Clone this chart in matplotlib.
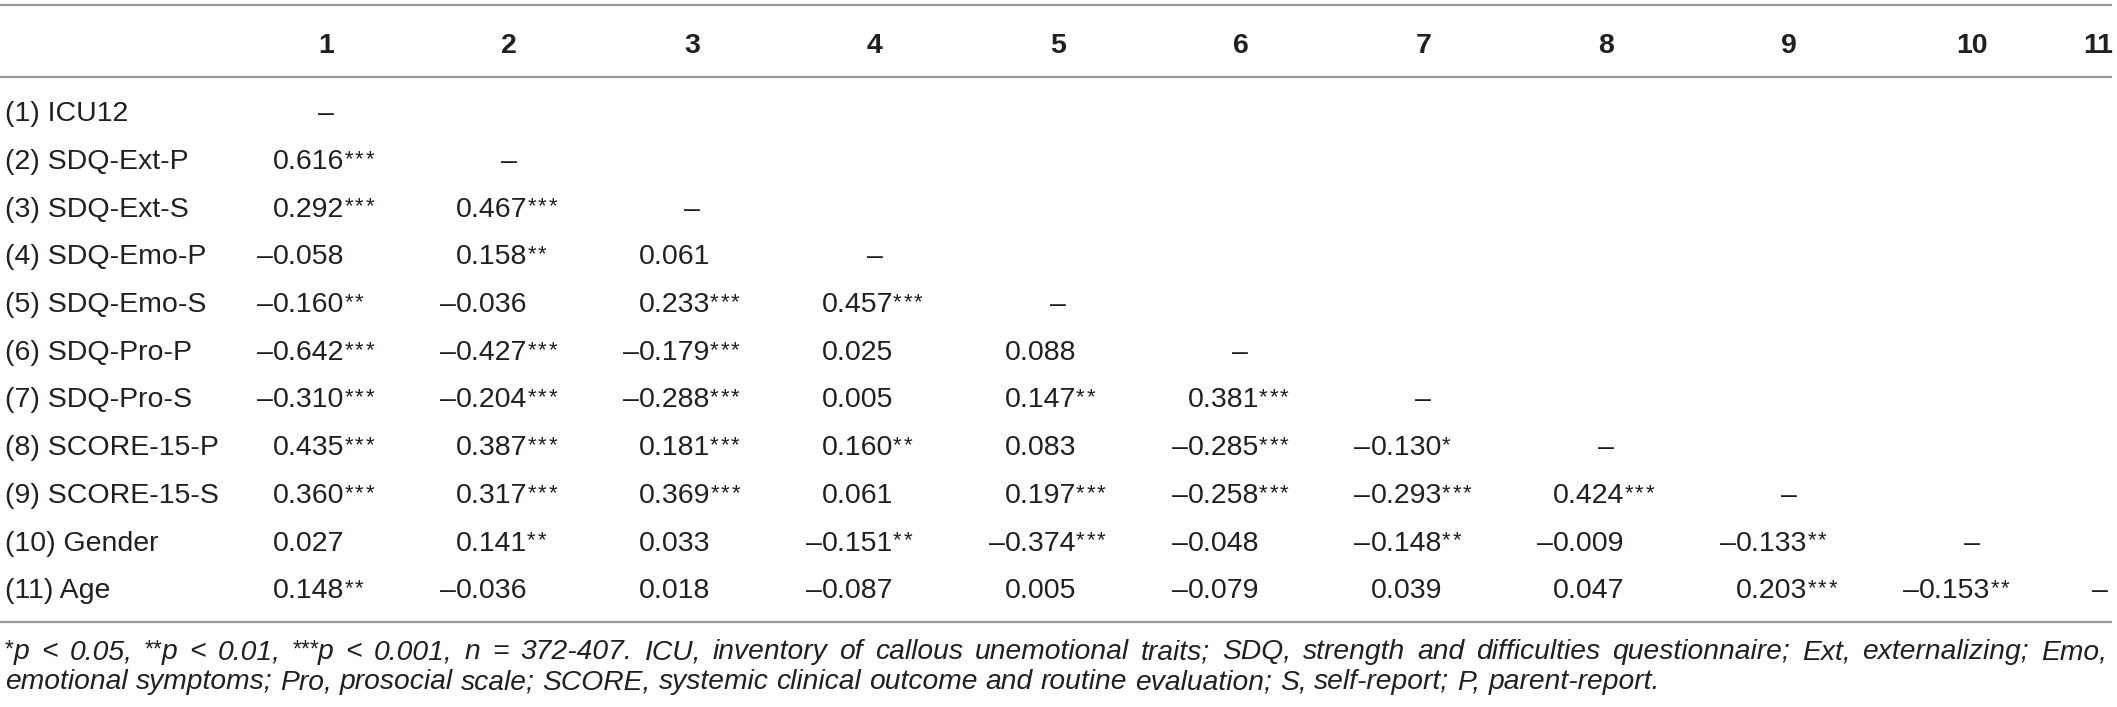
import matplotlib
matplotlib.use("Agg")
import matplotlib.pyplot as plt

W, H = 2117, 707
FONT = "Liberation Sans"
TXT = "#231f20"
RULE = "#9a9a9a"

col_labels = ["1", "2", "3", "4", "5", "6", "7", "8", "9", "10", "11"]
row_labels = ["(1) ICU12", "(2) SDQ-Ext-P", "(3) SDQ-Ext-S", "(4) SDQ-Emo-P",
              "(5) SDQ-Emo-S", "(6) SDQ-Pro-P", "(7) SDQ-Pro-S", "(8) SCORE-15-P",
              "(9) SCORE-15-S", "(10) Gender", "(11) Age"]

# lower-triangular correlations (row i has i values before the diagonal dash)
corr = [
    [],
    [0.616],
    [0.292, 0.467],
    [-0.058, 0.158, 0.061],
    [-0.160, -0.036, 0.233, 0.457],
    [-0.642, -0.427, -0.179, 0.025, 0.088],
    [-0.310, -0.204, -0.288, 0.005, 0.147, 0.381],
    [0.435, 0.387, 0.181, 0.160, 0.083, -0.285, -0.130],
    [0.360, 0.317, 0.369, 0.061, 0.197, -0.258, -0.293, 0.424],
    [0.027, 0.141, 0.033, -0.151, -0.374, -0.048, -0.148, -0.009, -0.133],
    [0.148, -0.036, 0.018, -0.087, 0.005, -0.079, 0.039, 0.047, 0.203, -0.153],
]
# significance stars per cell
stars = [
    [],
    [3],
    [3, 3],
    [0, 2, 0],
    [2, 0, 3, 3],
    [3, 3, 3, 0, 0],
    [3, 3, 3, 0, 2, 3],
    [3, 3, 3, 2, 0, 3, 1],
    [3, 3, 3, 0, 3, 3, 3, 3],
    [0, 2, 0, 2, 3, 0, 2, 0, 2],
    [2, 0, 0, 0, 0, 0, 0, 0, 3, 2],
]

foot1 = ("^*p < 0.05, ^**p < 0.01, ^***p < 0.001, n = 372-407. ICU, inventory of callous "
         "unemotional traits; SDQ, strength and difficulties questionnaire; Ext, externalizing; Emo,")
foot2 = ("emotional symptoms; Pro, prosocial scale; SCORE, systemic clinical outcome and "
         "routine evaluation; S, self-report; P, parent-report.")

# ---- layout ----
FS = 20.5
STAR_FS = 16
STAR_STEP = 10.5
col_x = [326 + 182.9 * k for k in range(10)] + [2100]
head_x = col_x[:10] + [2098]
digit_off = 53
header_y = 43
row_y0, row_dy = 111, 47.7
cap = FS / 72 * 100 * 0.72

fig = plt.figure(figsize=(W / 100, H / 100), dpi=100)
ax = fig.add_axes([0, 0, 1, 1])
ax.set_xlim(0, W)
ax.set_ylim(H, 0)
ax.axis("off")
renderer = fig.canvas.get_renderer()


def width(t):
    return t.get_window_extent(renderer).width


def rule(y):
    ax.plot([0, 2112], [y, y], color=RULE, lw=1.6, solid_capstyle="butt")


def draw_stars(x, yb, n, fs, step):
    arts = []
    for k in range(n):
        arts.append(ax.text(x + k * step, yb, "*", ha="left", va="baseline",
                            fontsize=fs, family=FONT, color=TXT))
    return arts


rule(5)
rule(77)
rule(622)

for j, c in enumerate(col_labels):
    ax.text(head_x[j], header_y + cap / 2, c, ha="center", va="baseline",
            fontsize=FS, fontweight="bold", family=FONT, color=TXT)

for i, lab in enumerate(row_labels):
    yb = row_y0 + i * row_dy + cap / 2
    ax.text(5, yb, lab, ha="left", va="baseline", fontsize=FS, family=FONT, color=TXT)
    for j, v in enumerate(corr[i]):
        x0 = col_x[j] - digit_off
        t = ax.text(x0, yb, f"{abs(v):.3f}", ha="left", va="baseline",
                    fontsize=FS, family=FONT, color=TXT)
        if v < 0:
            ax.text(x0, yb, "\u2013", ha="right", va="baseline",
                    fontsize=FS, family=FONT, color=TXT)
        if stars[i][j]:
            draw_stars(x0 + width(t), yb - 4, stars[i][j], STAR_FS, STAR_STEP)
    ax.text(col_x[i], yb, "\u2013", ha="center", va="baseline",
            fontsize=FS, family=FONT, color=TXT)


# ---- footnote ----
def make_word(w, x, yb, ffs):
    arts = []
    if w.startswith("^"):
        w = w[1:]
        n = len(w) - len(w.lstrip("*"))
        step = ffs * 0.42
        arts += draw_stars(x, yb - 3, n, ffs * 0.8, step)
        x += n * step
        w = w[n:]
    t = ax.text(x, yb, w, ha="left", va="baseline", fontsize=ffs, style="italic",
                family=FONT, color=TXT)
    arts.append(t)
    return arts


def word_width(arts):
    bbs = [a.get_window_extent(renderer) for a in arts]
    return max(b.x1 for b in bbs) - min(b.x0 for b in bbs)


def space_width(ffs):
    sp = ax.text(0, 0, "a a", fontsize=ffs, style="italic", family=FONT)
    sp2 = ax.text(0, 0, "aa", fontsize=ffs, style="italic", family=FONT)
    nat = width(sp) - width(sp2)
    sp.remove(); sp2.remove()
    return nat


def build(text, yb, ffs):
    built = []
    for w in text.split(" "):
        arts = make_word(w, 0, yb, ffs)
        built.append((arts, word_width(arts)))
    return built


def natural(text, ffs):
    b = build(text, 0, ffs)
    tot = sum(x[1] for x in b) + space_width(ffs) * (len(b) - 1)
    for arts, _ in b:
        for a in arts:
            a.remove()
    return tot


def place(text, yb, ffs, justify_to=None):
    built = build(text, yb, ffs)
    total = sum(b[1] for b in built)
    gap = space_width(ffs)
    if justify_to is not None:
        gap = (justify_to - 5 - total) / (len(built) - 1)
    x = 5
    for arts, wd in built:
        for a in arts:
            px, py = a.get_position()
            a.set_position((px + x, py))
        x += wd + gap


base = 19.0
n1 = natural(foot1, base)
n2 = natural(foot2, base)
FFS = base * min(1650 / n2, 2085 / n1)

place(foot1, 650 + cap * 0.45, FFS, justify_to=2107)
place(foot2, 680 + cap * 0.45, FFS)

fig.savefig("out.png", dpi=100)
